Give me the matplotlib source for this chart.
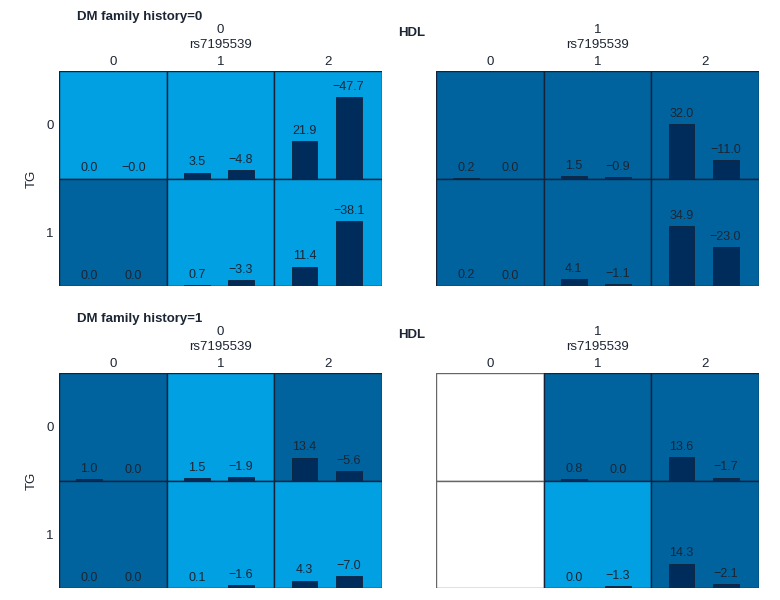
import matplotlib
matplotlib.use("Agg")
import matplotlib.pyplot as plt
from matplotlib.patches import Rectangle

plt.rcParams['font.family'] = ['Liberation Sans', 'DejaVu Sans']

# categories
rs_levels = ['0', '1', '2']
tg_levels = ['0', '1']
dm_titles = ['DM family history=0', 'DM family history=1']
hdl_levels = ['0', '1']

# bar values per panel: [TG row][rs column], None = empty cell
dm0_hdl0_a = [[0.0, 3.5, 21.9], [0.0, 0.7, 11.4]]
dm0_hdl0_b = [[-0.0, -4.8, -47.7], [0.0, -3.3, -38.1]]
dm0_hdl1_a = [[0.2, 1.5, 32.0], [0.2, 4.1, 34.9]]
dm0_hdl1_b = [[0.0, -0.9, -11.0], [0.0, -1.1, -23.0]]
dm1_hdl0_a = [[1.0, 1.5, 13.4], [0.0, 0.1, 4.3]]
dm1_hdl0_b = [[0.0, -1.9, -5.6], [0.0, -1.6, -7.0]]
dm1_hdl1_a = [[None, 0.8, 13.6], [None, 0.0, 14.3]]
dm1_hdl1_b = [[None, 0.0, -1.7], [None, -1.3, -2.1]]

# cell shading: L = light, D = dark, W = empty
dm0_hdl0_bg = [['L', 'L', 'L'], ['D', 'L', 'L']]
dm0_hdl1_bg = [['D', 'D', 'D'], ['D', 'D', 'D']]
dm1_hdl0_bg = [['D', 'L', 'D'], ['D', 'L', 'L']]
dm1_hdl1_bg = [['W', 'D', 'D'], ['W', 'L', 'D']]

panels = [
    (0, 0, dm0_hdl0_a, dm0_hdl0_b, dm0_hdl0_bg),
    (0, 1, dm0_hdl1_a, dm0_hdl1_b, dm0_hdl1_bg),
    (1, 0, dm1_hdl0_a, dm1_hdl0_b, dm1_hdl0_bg),
    (1, 1, dm1_hdl1_a, dm1_hdl1_b, dm1_hdl1_bg),
]

colors = {'L': '#00a0e3', 'D': '#00639e', 'W': '#ffffff'}
bar_color = '#002c5c'
edge = '#14223a'
txt = '#1c2533'
scale = 63.0

W, H = 780, 600
fig = plt.figure(figsize=(7.8, 6.0), dpi=100)

lefts = [59, 436]
tops = [71, 373]
pw, ph = 323, 215


def fmt(v):
    return f"{v:.1f}".replace('-', '\u2212')


for dm, hdl, va, vb, bg in panels:
    ax = fig.add_axes([lefts[hdl] / W, 1 - (tops[dm] + ph) / H, pw / W, ph / H])
    ax.set_xlim(0, 3)
    ax.set_ylim(0, 2)
    for r in range(2):
        y0 = 1 - r
        for c in range(3):
            kind = bg[r][c]
            ec = '#666666' if kind == 'W' else edge
            ax.add_patch(Rectangle((c, y0), 1, 1, facecolor=colors[kind],
                                   edgecolor=ec, linewidth=1.0, zorder=1))
            if va[r][c] is None:
                continue
            for pos, v in ((0.28, va[r][c]), (0.69, vb[r][c])):
                h = abs(v) / scale
                ax.bar(c + pos, h, width=0.24, bottom=y0, color=bar_color,
                       edgecolor=edge, linewidth=0.6, zorder=2)
                ax.annotate(fmt(v), (c + pos, y0 + h), xytext=(0, 3),
                            textcoords='offset points', ha='center', va='bottom',
                            fontsize=9, color=txt, zorder=3)
    ax.xaxis.tick_top()
    ax.set_xticks([0.5, 1.5, 2.5])
    ax.set_xticklabels(rs_levels, fontsize=9.5, color=txt)
    ax.tick_params(axis='x', length=0, pad=2)
    if hdl == 0:
        ax.set_yticks([1.5, 0.5])
        ax.set_yticklabels(tg_levels, fontsize=9.5, color=txt)
        ax.tick_params(axis='y', length=0, pad=4)
        ax.set_ylabel('TG', fontsize=9.5, labelpad=6, color=txt)
        ax.text(0.056, 1.25, dm_titles[dm], transform=ax.transAxes,
                fontsize=9.5, fontweight='bold', ha='left', va='center', color=txt)
        ax.text(1.05, 1.177, 'HDL', transform=ax.transAxes,
                fontsize=9.5, fontweight='bold', ha='left', va='center', color=txt)
    else:
        ax.set_yticks([])
    ax.text(0.5, 1.19, hdl_levels[hdl], transform=ax.transAxes,
            fontsize=9.5, ha='center', va='center', color=txt)
    ax.text(0.5, 1.121, 'rs7195539', transform=ax.transAxes,
            fontsize=9.5, ha='center', va='center', color=txt)
    for s in ax.spines.values():
        s.set_visible(False)

fig.savefig('out.png', dpi=100)
